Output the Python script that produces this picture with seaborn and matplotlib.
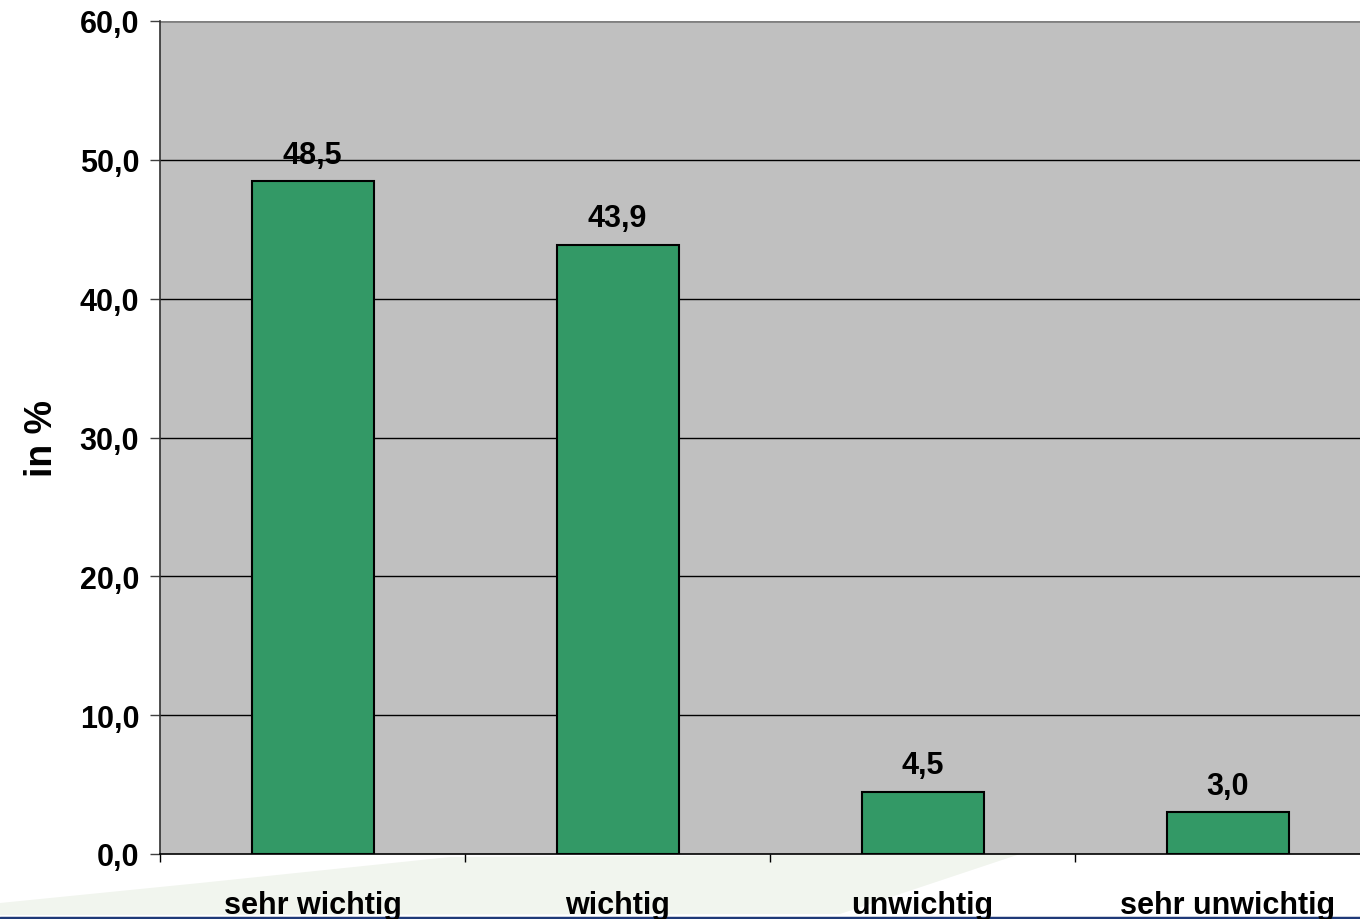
import matplotlib
matplotlib.use("Agg")
import matplotlib.pyplot as plt
from matplotlib.patches import Polygon
from matplotlib.lines import Line2D
from matplotlib.ticker import FuncFormatter, FixedLocator
import seaborn as sns
import pandas as pd

# Survey answers and their shares
categories = ["sehr wichtig", "wichtig", "unwichtig", "sehr unwichtig"]
shares = [48.5, 43.9, 4.5, 3.0]
y_ticks = [0, 10, 20, 30, 40, 50, 60]

df = pd.DataFrame({"Antwort": categories, "Anteil": shares})

sns.set_theme(style="white")
plt.rcParams["font.family"] = ["Liberation Sans", "DejaVu Sans"]
plt.rcParams["font.weight"] = "bold"
plt.rcParams["text.color"] = "black"
plt.rcParams["axes.labelcolor"] = "black"
plt.rcParams["xtick.color"] = "black"
plt.rcParams["ytick.color"] = "black"

W, H = 1360, 920
fig = plt.figure(figsize=(W / 100, H / 100), dpi=100)
fig.patch.set_facecolor("white")

# decorative pale swoosh and blue rule along the bottom edge
swoosh = [(0, 904), (200, 884), (450, 858), (1020, 855), (840, 915), (0, 916)]
fig.patches.append(Polygon([(x / W, 1 - y / H) for x, y in swoosh], closed=True,
                           transform=fig.transFigure, facecolor="#F1F5EE",
                           edgecolor="none", zorder=-2))
fig.lines.append(Line2D([0, 1], [1 - 918.5 / H] * 2, transform=fig.transFigure,
                        color="#1F3A78", linewidth=2.5, zorder=-1))

left, top, bottom = 160, 22, 855
slot = 305
ax = fig.add_axes([left / W, 1 - bottom / H, 4 * slot / W, (bottom - top) / H])
ax.set_facecolor("#C0C0C0")

sns.barplot(data=df, x="Antwort", y="Anteil", color="#339966", saturation=1,
            width=0.4, edgecolor="black", linewidth=1.5, ax=ax, zorder=3)

ax.set_xlim(-0.5, 3.5)
ax.set_ylim(0, 60)
ax.yaxis.set_major_locator(FixedLocator(y_ticks))
ax.yaxis.set_major_formatter(FuncFormatter(lambda v, p: f"{v:.1f}".replace(".", ",")))
for v in y_ticks[1:-1]:
    ax.axhline(v, color="black", linewidth=1.0, zorder=1)
ax.axhline(60, color="#808080", linewidth=2.0, zorder=1)

for s in ["top", "right"]:
    ax.spines[s].set_visible(False)
ax.spines["left"].set_color("#303030")
ax.spines["left"].set_linewidth(1.2)
ax.spines["bottom"].set_color("black")
ax.spines["bottom"].set_linewidth(1.2)

ax.tick_params(axis="y", which="major", left=True, length=7, width=1.0,
               color="#404040", labelsize=22, pad=8)
ax.tick_params(axis="x", which="major", bottom=False, length=0,
               labelsize=22, pad=26)
ax.set_xticks(range(len(categories)))
ax.set_xticklabels(categories, fontweight="bold")
ax.set_xticks([-0.5, 0.5, 1.5, 2.5, 3.5], minor=True)
ax.tick_params(axis="x", which="minor", bottom=True, length=6, width=1.0,
               color="black")
for lab in ax.get_yticklabels():
    lab.set_fontweight("bold")

ax.set_xlabel("")
ax.set_ylabel("in %", fontsize=27, fontweight="bold", labelpad=14)

ax.bar_label(ax.containers[0], labels=[f"{v:.1f}".replace(".", ",") for v in shares],
             padding=8, fontsize=22, fontweight="bold")

fig.savefig("out.png", dpi=100, facecolor="white")
